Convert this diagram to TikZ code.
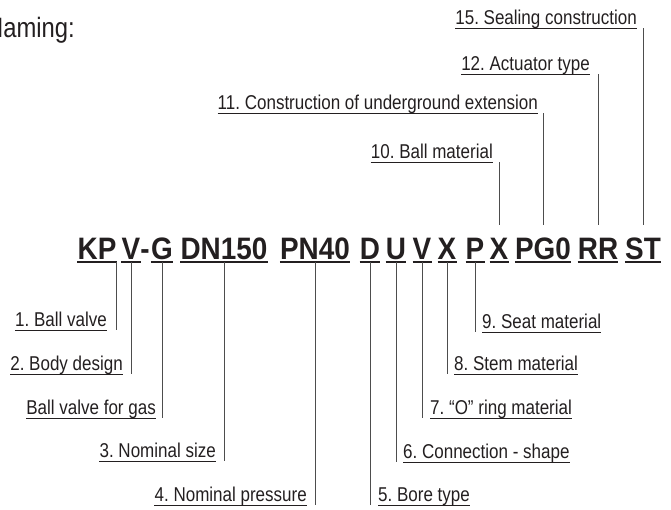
\documentclass[tikz,border=0pt]{standalone}
\usepackage{fontspec}
\setmainfont{Liberation Sans}
\newfontfamily\narrowfont[FakeStretch=0.85]{Liberation Sans}
\newfontfamily\codefont[FakeStretch=0.9]{Liberation Sans}
\definecolor{ink}{HTML}{231F20}
\definecolor{wirecol}{HTML}{4D4D4D}
\frenchspacing

\begin{document}
\begin{tikzpicture}[x=1pt, y=-1pt,
    code/.style={font=\codefont\bfseries\fontsize{31}{32}\selectfont, text=ink, inner sep=0pt, text height=22pt, text depth=3pt, anchor=base},
    lbl/.style={font=\narrowfont\fontsize{20}{22}\selectfont, text=ink, inner sep=0pt, text height=14pt, text depth=3.5pt},
    wire/.style={draw=wirecol, line width=0.9pt}]
    \useasboundingbox (0, 0) rectangle (671, 509);
    % Title:
    \node[font=\narrowfont\fontsize{28}{30}\selectfont, text=ink, inner sep=0pt, anchor=base west] (title) at (-14, 37) {Naming:};
    % Code segments:
    \node[code] (kp) at (97, 259) {KP};
    \node[code] (v) at (131, 259) {V};
    \node[code] (dash) at (145, 259) {-};
    \node[code] (g) at (162, 259) {G};
    \node[code] (dn) at (224, 259) {DN150};
    \node[code] (pn) at (315, 259) {PN40};
    \node[code] (d) at (370, 259) {D};
    \node[code] (u) at (396, 259) {U};
    \node[code] (vv) at (422, 259) {V};
    \node[code] (x) at (447, 259) {X};
    \node[code] (p) at (475, 259) {P};
    \node[code] (xx) at (499, 259) {X};
    \node[code] (pg) at (543, 259) {PG0};
    \node[code] (rr) at (598, 259) {RR};
    \node[code] (st) at (643, 259) {ST};
    \foreach \n in {kp, v, g, dn, pn, d, u, vv, x, p, xx, pg, rr, st}
        \draw[ink, line width=2pt] (\n.south west) -- (\n.south east);
    % Labels above:
    \node[lbl, anchor=south east] (l15) at (637, 28) {15. Sealing construction};
    \node[lbl, anchor=south east] (l12) at (590, 74) {12. Actuator type};
    \node[lbl, anchor=south east] (l11) at (538, 113) {11. Construction of underground extension};
    \node[lbl, anchor=south east] (l10) at (493, 162) {10. Ball material};
    % Labels below:
    \node[lbl, anchor=south east] (l1) at (107, 330) {1. Ball valve};
    \node[lbl, anchor=south east] (l2) at (123, 374) {2. Body design};
    \node[lbl, anchor=south east] (lgas) at (156, 418) {Ball valve for gas};
    \node[lbl, anchor=south east] (l3) at (216, 461) {3. Nominal size};
    \node[lbl, anchor=south east] (l4) at (307, 505) {4. Nominal pressure};
    \node[lbl, anchor=south west] (l5) at (378, 505) {5. Bore type};
    \node[lbl, anchor=south west] (l6) at (403, 462) {6. Connection - shape};
    \node[lbl, anchor=south west] (l7) at (430, 418) {7. “O” ring material};
    \node[lbl, anchor=south west] (l8) at (454, 374) {8. Stem material};
    \node[lbl, anchor=south west] (l9) at (482, 332) {9. Seat material};
    \foreach \n in {l15, l12, l11, l10, l1, l2, lgas, l3, l4, l5, l6, l7, l8, l9}
        \draw[ink, line width=0.8pt] (\n.south west) -- (\n.south east);
    % Wires:
    \draw[wire] (l15.south -| st.north) -- ([yshift=12pt]st.north);
    \draw[wire] (l12.south -| rr.north) -- ([yshift=12pt]rr.north);
    \draw[wire] (l11.south -| pg.north) -- ([yshift=12pt]pg.north);
    \draw[wire] (l10.south -| xx.north) -- ([yshift=12pt]xx.north);
    \draw[wire] (kp.south east) -- (kp.south east |- l1.south);
    \draw[wire] (v.south) -- (v.south |- l2.south);
    \draw[wire] (g.south) -- (g.south |- lgas.south);
    \draw[wire] (dn.south) -- (dn.south |- l3.south);
    \draw[wire] (pn.south) -- (pn.south |- l4.south);
    \draw[wire] (d.south) -- (d.south |- l5.south);
    \draw[wire] (u.south) -- (u.south |- l6.south);
    \draw[wire] (vv.south) -- (vv.south |- l7.south);
    \draw[wire] (x.south) -- (x.south |- l8.south);
    \draw[wire] (p.south) -- (p.south |- l9.south);
\end{tikzpicture}
\end{document}
